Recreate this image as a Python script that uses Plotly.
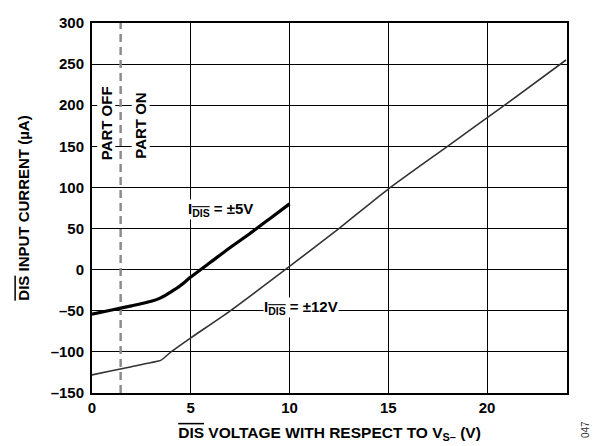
import plotly.graph_objects as go

# ±5V supply curve (thick)
v5_x = [0, 1, 2, 3, 3.5, 4, 4.5, 5, 6, 7, 8, 9, 10]
v5_y = [-54, -49, -44, -38.5, -34, -27, -19, -9, 9, 27, 44, 62, 80]

# ±12V supply curve (thin)
v12_x = [0, 1, 2, 3, 3.5, 4, 5, 7, 10, 12.5, 15, 18, 21, 24]
v12_y = [-128, -123, -118, -113, -110, -100, -83, -50, 4, 50, 98, 150, 202, 255]

threshold_x = 1.45

x_ticks = [0, 5, 10, 15, 20]
y_ticks = [-150, -100, -50, 0, 50, 100, 150, 200, 250, 300]
y_ticktext = ["–150", "–100", "–50", "0", "50", "100", "150", "200", "250", "300"]

FONT = "Liberation Sans, Arial, sans-serif"
OV = "<span style='text-decoration:overline'>DIS</span>"

fig = go.Figure()

fig.add_trace(go.Scatter(x=[threshold_x, threshold_x], y=[-150, 300], mode="lines",
                         line=dict(color="#8c8c8c", width=2.5, dash="8px,5px"),
                         hoverinfo="skip", showlegend=False))
fig.add_trace(go.Scatter(x=v12_x, y=v12_y, mode="lines",
                         line=dict(color="#333333", width=1.6, shape="spline", smoothing=0.6),
                         showlegend=False))
fig.add_trace(go.Scatter(x=v5_x, y=v5_y, mode="lines",
                         line=dict(color="#000000", width=3.2, shape="spline", smoothing=0.6),
                         showlegend=False))

ann_font = dict(family=FONT, size=15, color="black", weight="bold")
fig.add_annotation(x=6.53, y=73, text="I<sub>" + OV + "</sub> = ±5V", showarrow=False,
                   font=ann_font, bgcolor="white", borderpad=0)
fig.add_annotation(x=10.58, y=-45.5, text="I<sub>" + OV + "</sub> = ±12V", showarrow=False,
                   font=ann_font, bgcolor="white", borderpad=0)
fig.add_annotation(x=0.71, y=178, text="PART OFF", textangle=-90, showarrow=False,
                   font=ann_font, bgcolor="white", borderpad=0)
fig.add_annotation(x=2.48, y=175, text="PART ON", textangle=-90, showarrow=False,
                   font=ann_font, bgcolor="white", borderpad=0)
fig.add_annotation(x=1.055, y=-0.127, xref="paper", yref="paper", text="047", textangle=-90,
                   showarrow=False, font=dict(family=FONT, size=10, color="#333"))

fig.update_layout(
    width=600, height=438,
    margin=dict(l=84, r=41, t=6, b=53),
    paper_bgcolor="white", plot_bgcolor="white",
    font=dict(family=FONT, color="black"),
    xaxis=dict(range=[0, 24.05], tickvals=x_ticks, ticks="", showgrid=True,
               gridcolor="#000000", gridwidth=1.4, zeroline=False,
               showline=True, linecolor="black", linewidth=2, mirror=True,
               ticklabeloverflow="allow",
               tickfont=dict(family=FONT, size=15, weight="bold"),
               title=dict(text=OV + " VOLTAGE WITH RESPECT TO V<sub>S–</sub> (V)",
                          font=dict(family=FONT, size=15.5, weight="bold"), standoff=12)),
    yaxis=dict(range=[-150, 300], tickvals=y_ticks, ticktext=y_ticktext, ticks="",
               showgrid=True, gridcolor="#000000", gridwidth=1.4, zeroline=False,
               showline=True, linecolor="black", linewidth=2, mirror=True,
               ticklabelstandoff=3, ticklabeloverflow="allow",
               tickfont=dict(family=FONT, size=15, weight="bold"),
               title=dict(text=OV + " INPUT CURRENT (µA)",
                          font=dict(family=FONT, size=15, weight="bold"), standoff=17)),
)

fig.write_html("out.html")
